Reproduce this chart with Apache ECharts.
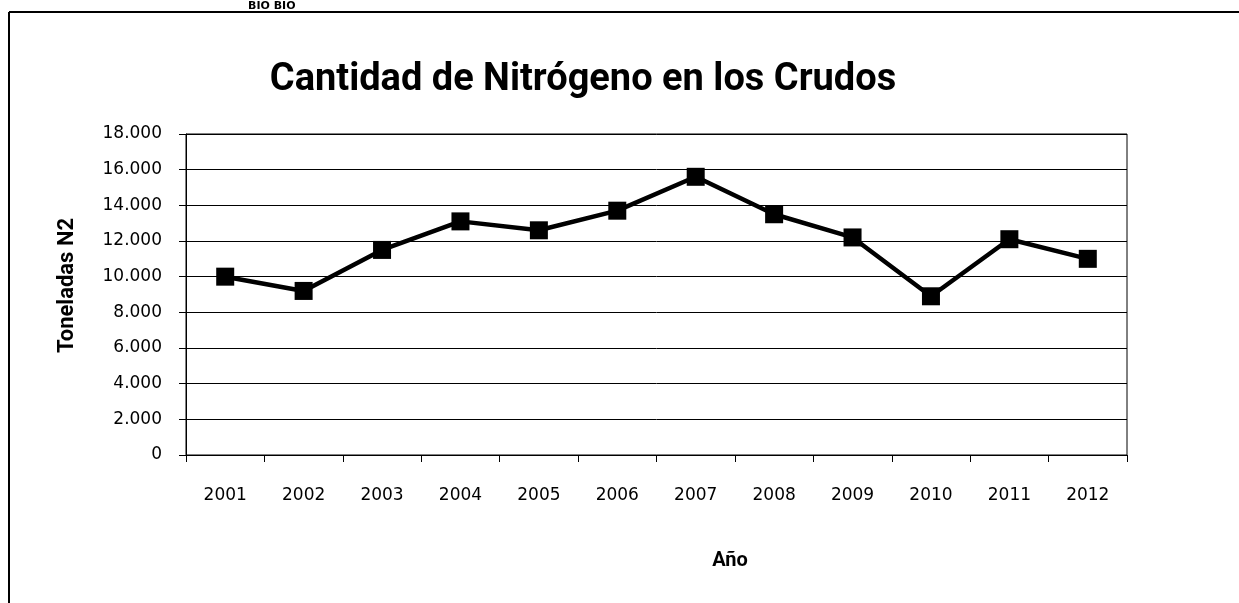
<!DOCTYPE html>
<html>
<head>
<meta charset="utf-8">
<script src="https://cdn.jsdelivr.net/npm/echarts@6/dist/echarts.min.js"></script>
<style>
html,body{margin:0;padding:0;background:#fff;}
#chart{width:1239px;height:603px;}
</style>
</head>
<body>
<div id="chart"></div>
<script>
const years = ['2001','2002','2003','2004','2005','2006','2007','2008','2009','2010','2011','2012'];
const nitrogen = [10000, 9200, 11500, 13100, 12600, 13700, 15600, 13500, 12200, 8900, 12100, 11000];
const yTicks = [0, 2000, 4000, 6000, 8000, 10000, 12000, 14000, 16000, 18000];

const fmt = v => String(v).replace(/\B(?=(\d{3})+(?!\d))/g, '.');
const narrow = "Roboto, 'Open Sans', sans-serif";

const chart = echarts.init(document.getElementById('chart'));
chart.setOption({
  backgroundColor: '#fff',
  animation: false,
  title: {
    text: 'Cantidad de Nitrógeno en los Crudos',
    left: 578, textAlign: 'center', top: 56,
    textStyle: { fontFamily: narrow, fontSize: 38, fontWeight: 'bold', color: '#000' }
  },
  graphic: [
    { type: 'line', shape: { x1: 9, y1: 12, x2: 1239, y2: 12 }, style: { stroke: '#000', lineWidth: 2 } },
    { type: 'line', shape: { x1: 9, y1: 12, x2: 9, y2: 603 }, style: { stroke: '#000', lineWidth: 2 } },
    { type: 'text', left: 248, top: 1, style: { text: 'BIO BIO', fontFamily: 'DejaVu Sans', fontSize: 11, fontWeight: 'bold', fill: '#000' } }
  ],
  grid: { left: 186, right: 112, top: 134, bottom: 148, show: true, borderColor: '#000', borderWidth: 1 },
  xAxis: {
    type: 'category', data: years, boundaryGap: true,
    name: 'Año', nameLocation: 'middle', nameGap: 96,
    nameTextStyle: { fontFamily: narrow, fontSize: 20, fontWeight: 'bold', color: '#000', padding: [0, 0, 0, 147] },
    axisLine: { lineStyle: { color: '#000', width: 1 } },
    axisTick: { show: true, length: 7, lineStyle: { color: '#000' } },
    axisLabel: { margin: 32, fontFamily: 'DejaVu Sans', fontSize: 17, color: '#000' }
  },
  yAxis: {
    type: 'value', min: 0, max: 18000, interval: 2000,
    name: 'Toneladas N2', nameLocation: 'middle', nameGap: 108, nameRotate: 90,
    nameTextStyle: { fontFamily: narrow, fontSize: 22, fontWeight: 'bold', color: '#000', padding: [0, 0, 0, 18] },
    axisLine: { show: true, lineStyle: { color: '#000', width: 1 } },
    axisTick: { show: true, length: 7, lineStyle: { color: '#000' } },
    axisLabel: { margin: 24, fontFamily: 'DejaVu Sans', fontSize: 17, color: '#000', formatter: v => yTicks.includes(v) ? fmt(v) : '' },
    splitLine: { show: true, lineStyle: { color: '#000', width: 1 } }
  },
  series: [{
    type: 'line', data: nitrogen,
    symbol: 'rect', symbolSize: 18,
    itemStyle: { color: '#000' },
    lineStyle: { color: '#000', width: 4.5 }
  }]
});
</script>
</body>
</html>
